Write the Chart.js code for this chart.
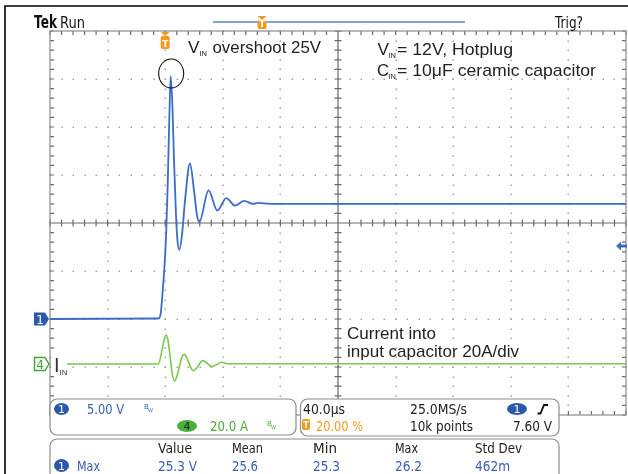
<!DOCTYPE html>
<html>
<head>
<meta charset="utf-8">
<script src="https://cdn.jsdelivr.net/npm/chart.js@4.4.1/dist/chart.umd.min.js"></script>
<style>
  html, body { margin: 0; padding: 0; background: #fff; }
  canvas { display: block; }
</style>
</head>
<body>
<canvas id="scope" width="628" height="474"></canvas>
<script>
// time axis in microseconds (40us/div, trigger at 20%)
const timeDivs = [-80, -40, 0, 40, 80, 120, 160, 200, 240, 280, 320];
// channel 1 volts (5 V/div) and channel 4 amps (20 A/div)
const voltDivs = [-10, -5, 0, 5, 10, 15, 20, 25, 30];
const ampDivs = [-21.25, -1.25, 18.75, 38.75, 58.75, 78.75, 98.75, 118.75, 138.75];
const trigLevel = 7.6;

// V_IN trace
const vinTime = [-80, -4.8, -3.1, -1.7, -0.8, 0.6, 1.7, 3.0, 3.8, 5.1, 6.1, 7.5, 8.5, 9.8, 11.7, 13.8, 17.2, 20.0, 22.1, 23.7, 30.1, 36.2, 42.4, 48.5, 54.7, 61.2, 64.4, 72.8, 320];
const vinVolts = [0, 0.05, 0.6, 3.0, 4.8, 8.6, 13.8, 21.8, 25.3, 21.8, 16.6, 10.8, 8.2, 7.2, 8.8, 12.4, 16.2, 13.4, 10.8, 10.1, 13.4, 11.3, 12.6, 11.8, 12.3, 12.0, 12.1, 12.0, 12.0];

// I_IN trace
const iinTime = [-80, -4.8, -2.2, -0.8, 0.6, 1.9, 3.3, 4.7, 6.3, 8.2, 10.3, 11.7, 13.3, 15.1, 17.2, 19.5, 22.1, 26.0, 29.0, 32.3, 35.3, 39.2, 42.9, 320];
const iinAmps = [0, 0, 5.8, 10.0, 12.1, 10.0, 3.8, -3.3, -7.1, -5.0, 0, 3.1, 4.0, 2.5, -0.8, -2.8, -1.5, 1.4, 0.4, -1.1, -0.4, 0.7, 0.1, 0.1];

const BLUE = '#3b6cc6';
const GREEN = '#7cc84c';
const ORANGE = '#f29a1f';
const TXT = '#222';
const UI = 'DejaVu Sans';
const ARIAL = 'Liberation Sans';

// draw text, optionally squeezed to a given width
function txt(ctx, s, x, y, font, color, w, align) {
  ctx.font = font;
  ctx.fillStyle = color;
  ctx.textBaseline = 'alphabetic';
  ctx.textAlign = 'left';
  let m = ctx.measureText(s).width;
  let sx = w ? w / m : 1;
  let dx = align === 'center' ? -(m * sx) / 2 : 0;
  ctx.save();
  ctx.translate(x + dx, y);
  ctx.scale(sx, 1);
  ctx.fillText(s, 0, 0);
  ctx.restore();
}

function badge(ctx, x, y, w, h, fill, label, color) {
  ctx.beginPath();
  ctx.ellipse(x + w / 2, y + h / 2, w / 2, h / 2, 0, 0, Math.PI * 2);
  ctx.fillStyle = fill;
  ctx.fill();
  txt(ctx, label, x + w / 2, y + h - 2, '11px ' + UI, color, null, 'center');
}

function tMarker(ctx, x, y, h) {
  ctx.fillStyle = ORANGE;
  ctx.beginPath();
  ctx.moveTo(x - 4.5, y); ctx.lineTo(x + 4.5, y); ctx.lineTo(x, y + 4); ctx.closePath();
  ctx.fill();
  ctx.beginPath();
  ctx.roundRect(x - 4.5, y + 4, 9, h, 2);
  ctx.fill();
  txt(ctx, 'T', x, y + 4 + h - 2, 'bold 9px ' + UI, '#fff', null, 'center');
}

function panel(ctx, x, y, w, h) {
  ctx.beginPath();
  ctx.roundRect(x, y, w, h, 7);
  ctx.fillStyle = '#fff';
  ctx.fill();
  ctx.strokeStyle = '#8c8c8c';
  ctx.lineWidth = 1.2;
  ctx.stroke();
}

const graticule = {
  id: 'graticule',
  beforeDatasetsDraw(chart) {
    const { ctx, chartArea: a, scales } = chart;
    const xs = scales.x, ys = scales.y;
    const mx = (a.right - a.left) / 50, my = (a.bottom - a.top) / 40;
    const cx = xs.getPixelForValue(timeDivs[5]);
    const cy = ys.getPixelForValue(voltDivs[4]);
    ctx.save();
    // dotted divisions
    ctx.fillStyle = '#a4a4a4';
    timeDivs.slice(1, -1).forEach((t, i) => {
      if (i === 4) return;
      const px = Math.round(xs.getPixelForValue(t));
      for (let k = 0; k <= 40; k++) ctx.fillRect(px - 0.5, Math.round(a.top + k * my) - 0.5, 1.5, 1.5);
    });
    voltDivs.slice(1, -1).forEach((v, i) => {
      if (i === 3) return;
      const py = Math.round(ys.getPixelForValue(v));
      for (let k = 0; k <= 50; k++) ctx.fillRect(Math.round(a.left + k * mx) - 0.5, py - 0.5, 1.5, 1.5);
    });
    // centre cross
    ctx.strokeStyle = '#6a6a6a';
    ctx.lineWidth = 1.2;
    ctx.beginPath();
    ctx.moveTo(cx, a.top); ctx.lineTo(cx, a.bottom);
    ctx.moveTo(a.left, cy); ctx.lineTo(a.right, cy);
    for (let k = 0; k <= 50; k++) {
      const px = a.left + k * mx;
      ctx.moveTo(px, cy - 3.5); ctx.lineTo(px, cy + 3.5);
      ctx.moveTo(px, a.top); ctx.lineTo(px, a.top + 4);
      ctx.moveTo(px, a.bottom); ctx.lineTo(px, a.bottom - 4);
    }
    for (let k = 0; k <= 40; k++) {
      const py = a.top + k * my;
      ctx.moveTo(cx - 3.5, py); ctx.lineTo(cx + 3.5, py);
      ctx.moveTo(a.left, py); ctx.lineTo(a.left + 4, py);
      ctx.moveTo(a.right, py); ctx.lineTo(a.right - 4, py);
    }
    ctx.stroke();
    ctx.strokeStyle = '#8a8a8a';
    ctx.strokeRect(a.left, a.top, a.right - a.left, a.bottom - a.top);
    ctx.restore();
  },
  afterDatasetsDraw(chart) {
    const { ctx, chartArea: a, scales } = chart;
    const xs = scales.x, ys = scales.y, yi = scales.yi;
    ctx.save();

    // outer frame
    ctx.strokeStyle = '#000';
    ctx.lineWidth = 1.6;
    ctx.beginPath();
    ctx.moveTo(5, 474); ctx.lineTo(5, 6); ctx.lineTo(628, 6);
    ctx.stroke();

    // status line
    txt(ctx, 'Tek', 34, 28, 'bold 17px ' + UI, '#111', 23);
    txt(ctx, 'Run', 60, 28, '15px ' + UI, '#111', 25);
    txt(ctx, 'Trig?', 555, 28, '15px ' + UI, '#111', 28);
    ctx.strokeStyle = '#5b84cc';
    ctx.lineWidth = 1.5;
    ctx.beginPath(); ctx.moveTo(213, 22); ctx.lineTo(465, 22); ctx.stroke();
    tMarker(ctx, 262, 16, 9);

    // trigger position marker
    tMarker(ctx, xs.getPixelForValue(0), a.top + 1, 13);

    // trigger level arrow
    const ty = ys.getPixelForValue(trigLevel);
    ctx.fillStyle = BLUE;
    ctx.beginPath();
    ctx.moveTo(616, ty); ctx.lineTo(621, ty - 4.5); ctx.lineTo(621, ty - 1.5);
    ctx.lineTo(627, ty - 1.5); ctx.lineTo(627, ty + 1.5); ctx.lineTo(621, ty + 1.5);
    ctx.lineTo(621, ty + 4.5); ctx.closePath(); ctx.fill();

    // ground markers
    const g1 = ys.getPixelForValue(0);
    ctx.beginPath();
    ctx.moveTo(34, g1 - 6.5); ctx.lineTo(45, g1 - 6.5); ctx.lineTo(49, g1);
    ctx.lineTo(45, g1 + 6.5); ctx.lineTo(34, g1 + 6.5); ctx.closePath();
    ctx.fillStyle = '#2d5aa8'; ctx.fill();
    txt(ctx, '1', 40, g1 + 5, '12px ' + UI, '#fff', null, 'center');
    const g4 = yi.getPixelForValue(0);
    ctx.beginPath();
    ctx.moveTo(34.5, g4 - 6.5); ctx.lineTo(45, g4 - 6.5); ctx.lineTo(49, g4);
    ctx.lineTo(45, g4 + 6.5); ctx.lineTo(34.5, g4 + 6.5); ctx.closePath();
    ctx.fillStyle = '#fff'; ctx.fill();
    ctx.strokeStyle = '#3fa535'; ctx.lineWidth = 1.4; ctx.stroke();
    txt(ctx, '4', 40, g4 + 5, '12px ' + UI, '#3fa535', null, 'center');

    // I_IN label
    ctx.fillStyle = '#fff';
    ctx.fillRect(51, g4 - 9, 16, 20);
    txt(ctx, 'I', 54, g4 + 8, '20px ' + ARIAL, '#333');
    txt(ctx, 'IN', 59.5, g4 + 11, '8px ' + ARIAL, '#333');

    // annotations
    const f = '17px ' + ARIAL;
    const sf = '7.5px ' + ARIAL;
    txt(ctx, 'V', 188, 53, f, TXT, 11.5);
    txt(ctx, 'IN', 199.5, 55.5, sf, TXT);
    txt(ctx, 'overshoot 25V', 212.5, 53, f, TXT, 108.5);
    txt(ctx, 'V', 377.5, 55, f, TXT, 11.5);
    txt(ctx, 'IN', 388.5, 57.5, sf, TXT);
    txt(ctx, '= 12V, Hotplug', 397, 55, f, TXT, 116);
    txt(ctx, 'C', 377, 76, f, TXT, 12);
    txt(ctx, 'IN', 388.5, 78.5, sf, TXT);
    txt(ctx, '= 10\u03bcF ceramic capacitor', 397, 76, f, TXT, 199);
    txt(ctx, 'Current into', 347, 338.5, f, TXT, 89);
    txt(ctx, 'input capacitor 20A/div', 347, 357, f, TXT, 172);

    // circle round the overshoot peak
    ctx.strokeStyle = '#111';
    ctx.lineWidth = 1.1;
    ctx.beginPath();
    ctx.ellipse(xs.getPixelForValue(3.8) + 0.5, 73.5, 12.5, 14.5, 0, 0, Math.PI * 2);
    ctx.stroke();

    // readout panels
    const pf = '14px ' + UI;
    panel(ctx, 50, 399, 246, 36);
    panel(ctx, 300.5, 399, 258.5, 37);
    badge(ctx, 54, 403, 15, 12, '#2b58a8', '1', '#fff');
    txt(ctx, '5.00 V', 87, 414, pf, '#3a5fb5', 37);
    txt(ctx, 'B', 144, 409, '7px ' + UI, '#3a5fb5');
    txt(ctx, 'W', 148, 412, '5px ' + UI, '#3a5fb5');
    badge(ctx, 177, 420, 20, 12, '#46b03a', '4', '#222');
    txt(ctx, '20.0 A', 210, 431, pf, '#4aae3a', 38);
    txt(ctx, 'B', 267, 426, '7px ' + UI, '#4aae3a');
    txt(ctx, 'W', 271, 429, '5px ' + UI, '#4aae3a');

    txt(ctx, '40.0\u00b5s', 303, 414, pf, TXT, 42);
    txt(ctx, '25.0MS/s', 410, 414, pf, TXT, 57);
    badge(ctx, 507, 403, 20, 12, '#2b58a8', '1', '#fff');
    ctx.strokeStyle = '#111'; ctx.lineWidth = 1.8;
    ctx.beginPath();
    ctx.moveTo(537.5, 413.5); ctx.lineTo(540.5, 413.5); ctx.lineTo(544, 405);
    ctx.lineTo(548, 405); ctx.stroke();
    ctx.fillStyle = ORANGE;
    ctx.beginPath(); ctx.roundRect(302, 419, 8, 11, 2); ctx.fill();
    txt(ctx, 'T', 306, 428, 'bold 8px ' + UI, '#fff', null, 'center');
    txt(ctx, '20.00 %', 316, 431, pf, ORANGE, 47);
    txt(ctx, '10k points', 410, 431, pf, TXT, 63);
    txt(ctx, '7.60 V', 513, 431, pf, TXT, 39);

    panel(ctx, 50, 439, 509, 50);
    const hdr = ['Value', 'Mean', 'Min', 'Max', 'Std Dev'];
    const hdrX = [158, 232, 313, 395, 475];
    const hdrW = [34, 31, 24, 23, 47];
    const vals = ['25.3 V', '25.6', '25.3', '26.2', '462m'];
    const valW = [39, 26, 27, 27, 35];
    hdr.forEach((h, i) => txt(ctx, h, hdrX[i], 453, pf, TXT, hdrW[i]));
    badge(ctx, 54, 459, 15, 13, '#2b58a8', '1', '#fff');
    txt(ctx, 'Max', 77, 471, pf, '#3a5fb5', 23);
    vals.forEach((v, i) => txt(ctx, v, hdrX[i], 471, pf, '#3a5fb5', valW[i]));

    ctx.restore();
  }
};

const vinPoints = vinTime.map((t, i) => ({ x: t, y: vinVolts[i] }));
const iinPoints = iinTime.map((t, i) => ({ x: t, y: iinAmps[i] }));

new Chart(document.getElementById('scope').getContext('2d'), {
  type: 'line',
  data: {
    datasets: [
      { label: 'V_IN', data: vinPoints, yAxisID: 'y', borderColor: BLUE, borderWidth: 1.8, cubicInterpolationMode: 'monotone', pointRadius: 0 },
      { label: 'I_IN', data: iinPoints, yAxisID: 'yi', borderColor: GREEN, borderWidth: 1.6, cubicInterpolationMode: 'monotone', pointRadius: 0 }
    ]
  },
  options: {
    responsive: false,
    animation: false,
    devicePixelRatio: 1,
    layout: { padding: { left: 50, top: 31, right: 2, bottom: 59 } },
    plugins: { legend: { display: false }, tooltip: { enabled: false } },
    scales: {
      x: { type: 'linear', display: false, min: timeDivs[0], max: timeDivs[timeDivs.length - 1] },
      y: { display: false, min: voltDivs[0], max: voltDivs[voltDivs.length - 1] },
      yi: { display: false, min: ampDivs[0], max: ampDivs[ampDivs.length - 1] }
    }
  },
  plugins: [graticule]
});
</script>
</body>
</html>
